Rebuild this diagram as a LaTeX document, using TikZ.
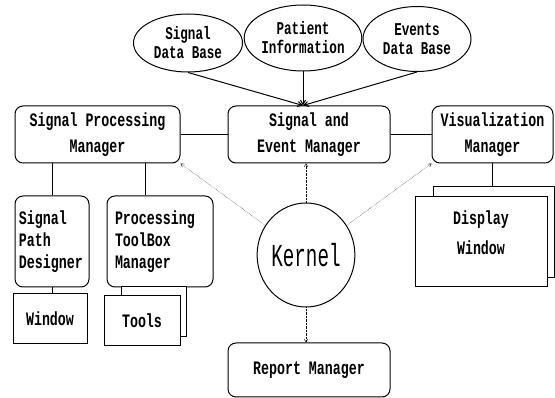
\documentclass[tikz,border=0pt]{standalone}
\usepackage{fontspec}
\usepackage{tikz}
\usetikzlibrary{arrows,shapes,positioning}
\newfontfamily\diagfont[FakeStretch=0.7]{Liberation Mono}
\newfontfamily\kernfont[FakeStretch=0.6]{Liberation Mono}
\tikzstyle{store} = [ellipse, draw, line width=1pt, inner sep=0pt, align=center, font=\diagfont\bfseries\fontsize{18}{19}\selectfont]
\tikzstyle{manager} = [rectangle, rounded corners=8pt, draw, line width=1pt, inner sep=0pt, align=center, font=\diagfont\bfseries\fontsize{19}{26}\selectfont]
\tikzstyle{tool} = [rectangle, rounded corners=8pt, draw, line width=1pt, inner ysep=0pt, align=left, font=\diagfont\bfseries\fontsize{19}{22}\selectfont]
\tikzstyle{window} = [rectangle, draw, line width=1pt, fill=white, inner sep=0pt, align=center, font=\diagfont\bfseries\fontsize{19}{30}\selectfont]
\tikzstyle{link} = [line width=1pt]
\tikzstyle{feed} = [line width=1pt,->,>=angle 60]
\tikzstyle{call} = [densely dotted,->,>=angle 60]

\begin{document}
\begin{tikzpicture}[x=1pt, y=-1pt]
\useasboundingbox (0,0) rectangle (555,398);
% Data bases
\node[store, minimum width=109pt, minimum height=58pt] (sdb) at (188,43) {Signal\\Data Base};
\node[store, minimum width=107pt, minimum height=66pt] (pdb) at (303,38) {Patient\\Information};
\node[store, minimum width=108pt, minimum height=65pt] (edb) at (417,39) {Events\\Data Base};

% Managers
\node[manager, minimum width=165pt, minimum height=57pt] (spm) at (97.5,134.5) {Signal Processing\\Manager};
\node[manager, minimum width=162pt, minimum height=57pt] (sem) at (309,134.5) {Signal and\\Event Manager};
\node[manager, minimum width=121pt, minimum height=57pt] (vm) at (492.5,134.5) {Visualization\\Manager};
\node[manager, minimum width=162pt, minimum height=54pt] (rm) at (309,370) {Report Manager};

% Processing side
\node[tool, text width=66pt, inner xsep=4pt, minimum height=91pt] (spd) at (52,241.5) {Signal\\Path\\Designer};
\node[tool, text width=90pt, inner xsep=8pt, minimum height=91pt] (ptm) at (160,241.5) {Processing\\ToolBox\\Manager};
\node[window, minimum width=74pt, minimum height=50pt] (win) at (50,319) {Window};
\node[window, minimum width=65pt, minimum height=50pt] (toolsb) at (153.5,312) {};
\node[window, minimum width=76pt, minimum height=50pt] (tools) at (142,321) {Tools};

% Display
\node[window, minimum width=121pt, minimum height=91pt] (dispb) at (493.5,232.5) {};
\node[window, minimum width=132pt, minimum height=90pt] (disp) at (481,242) {Display\\Window\\[-12pt]\mbox{}};

% Kernel
\node[ellipse, draw, line width=1pt, minimum width=88pt, minimum height=104pt, inner sep=0pt, font=\kernfont\fontsize{32}{34}\selectfont] (kernel) at (306,255) {Kernel};

% Connections
\coordinate (hub) at (pdb.south |- sem.north);
\draw[feed] (sdb.south) -- (hub);
\draw[feed] (pdb.south) -- (hub);
\draw[feed] (edb.south) -- (hub);
\draw[link] (spm.east) -- (sem.west);
\draw[link] (sem.east) -- (vm.west);
\draw[link] (spd.north) -- (spd.north |- spm.south);
\draw[link] ([xshift=-15pt]ptm.north) -- ([xshift=-15pt]ptm.north |- spm.south);
\draw[link] (spd.south) -- (spd.south |- win.north);
\draw[link] ([xshift=-15pt]ptm.south) -- ([xshift=-15pt]ptm.south |- toolsb.north);
\draw[link] (vm.south) -- (vm.south |- dispb.north);
\draw[call] (kernel) -- (spm.south east);
\draw[call] (kernel.north) -- (kernel.north |- sem.south);
\draw[call] (kernel) -- (vm.south west);
\draw[call] (kernel.south) -- (kernel.south |- rm.north);
\end{tikzpicture}
\end{document}
